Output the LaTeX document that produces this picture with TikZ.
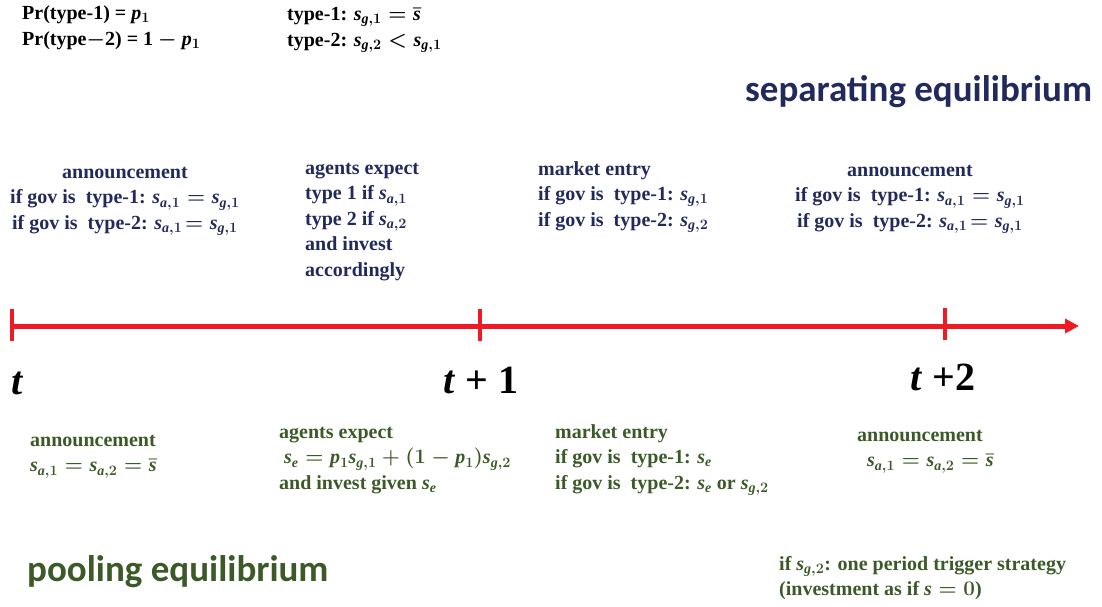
\documentclass[tikz,border=0pt]{standalone}
\usepackage{amsmath}
\usepackage{fontspec}
\setmainfont{Liberation Serif}
\newfontfamily\titlefont{Carlito}
\usetikzlibrary{arrows.meta}
\definecolor{navy}{HTML}{222A5C}
\definecolor{leaf}{HTML}{3B5A27}
\definecolor{tred}{HTML}{ED1C24}
\newcommand\mv[1]{\mathit{#1}}
\newcommand\Sa[1]{\mv{s}_{\mv{a},#1}}
\newcommand\Sg[1]{\mv{s}_{\mv{g},#1}}
\newcommand\Se{\mv{s}_{\mv{e}}}
\newcommand\Sbar{\bar{\mv{s}}}
\begin{document}
\boldmath
\begin{tikzpicture}[x=1pt,y=-1pt,
  txt/.style={inner sep=0pt, anchor=north west, align=left, font=\fontsize{20}{25.5}\selectfont\bfseries\boldmath},
  sep/.style={txt, text=navy},
  pool/.style={txt, text=leaf},
  head/.style={txt, text=black, font=\fontsize{20}{26}\selectfont\bfseries\boldmath},
  title/.style={inner sep=0pt, anchor=west, font=\titlefont\fontsize{37}{40}\selectfont\bfseries},
  axis/.style={draw=tred, line width=5pt, -{Triangle[length=14pt,width=14pt]}},
  tickmark/.style={draw=tred, line width=3.5pt},
  timelbl/.style={inner sep=0pt, anchor=base west, font=\fontsize{40}{44}\selectfont\bfseries}]
\useasboundingbox (0,0) rectangle (1102,606);

% header
\node[head] (prob) at (22,5) {Pr(type-1) = $\mv{p}_1$\\Pr(type$-$2) = 1 $-$ $\mv{p}_1$};
\node[head] (types) at (287,7) {type-1: $\Sg{1} = \Sbar$\\type-2: $\Sg{2} < \Sg{1}$};

\node[title, text=navy] (septitle) at (745,92) {separating equilibrium};
\node[title, text=leaf] (pooltitle) at (27,572) {pooling equilibrium};

% separating equilibrium
\node[sep, align=center] (s1) at (10,167) {announcement\\if gov is\ \ type-1: $\Sa{1} = \Sg{1}$\\if gov is\ \ type-2: $\Sa{1}\!= \Sg{1}$};
\node[sep] (s2) at (305,163) {agents expect\\type 1 if $\Sa{1}$\\type 2 if $\Sa{2}$\\and invest\\accordingly};
\node[sep] (s3) at (538,161) {market entry\\if gov is\ \ type-1: $\Sg{1}$\\if gov is\ \ type-2: $\Sg{2}$};
\node[sep, align=center] (s4) at (795,165) {announcement\\if gov is\ \ type-1: $\Sa{1} = \Sg{1}$\\if gov is\ \ type-2: $\Sa{1}\!= \Sg{1}$};

% timeline
\coordinate (T0) at (12,326);
\coordinate (T1) at (480,326);
\coordinate (T2) at (945,326);
\coordinate (Tend) at (1079,326);
\draw[axis] (T0) -- (Tend);
\draw[tickmark] ([yshift=-15pt]T0) -- ([yshift=17pt]T0);
\draw[tickmark] ([yshift=-15pt]T1) -- ([yshift=17pt]T1);
\draw[tickmark] ([yshift=-14pt]T2) -- ([yshift=18pt]T2);
\node[timelbl] (l0) at (11,394) {\textit{t}};
\node[timelbl] (l1) at (443,393) {\textit{t} + 1};
\node[timelbl] (l2) at (910,390) {\textit{t} +2};

% pooling equilibrium
\node[pool] (p1) at (30,435) {announcement\\$\Sa{1} = \Sa{2} = \Sbar$};
\node[pool] (p2) at (279,427) {agents expect\\\ $\Se = \mv{p}_1\Sg{1} + (1-\mv{p}_1)\Sg{2}$\\and invest given $\Se$};
\node[pool] (p3) at (555,424) {market entry\\if gov is\ \ type-1: $\Se$\\if gov is\ \ type-2: $\Se$ or $\Sg{2}$};
\node[pool] (p4) at (857,430) {announcement\\\ \ $\Sa{1} = \Sa{2} = \Sbar$};

\node[pool] (trig) at (779,556) {if $\Sg{2}$: one period trigger strategy\\(investment as if $\mv{s} = 0$)};
\end{tikzpicture}
\end{document}
